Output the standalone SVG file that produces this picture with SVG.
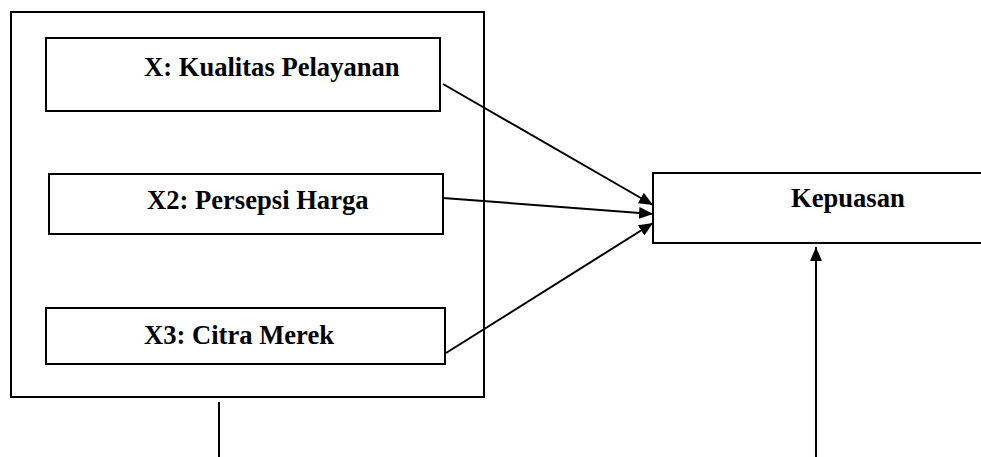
<svg xmlns="http://www.w3.org/2000/svg" width="981" height="457" viewBox="0 0 981 457">
<style>
.box{fill:#fff;stroke:#000;stroke-width:2}
.lbl{font-family:"Liberation Serif","Times New Roman",serif;font-weight:bold;font-size:26.6px;fill:#000}
.conn{stroke:#000;stroke-width:2;fill:none}
</style>
<defs>
<marker id="ah" markerWidth="14" markerHeight="12" refX="14" refY="6" orient="auto" markerUnits="userSpaceOnUse">
<path d="M0,0 L14,6 L0,12 Z" fill="#000"/>
</marker>
</defs>
<rect width="981" height="457" fill="#fff"/>
<g id="group-x">
<rect class="box" x="11" y="12" width="473" height="385"/>
</g>
<g id="node-x1">
<rect class="box" x="46" y="38" width="394" height="73"/>
<text class="lbl" x="144" y="76">X: Kualitas Pelayanan</text>
</g>
<g id="node-x2">
<rect class="box" x="49" y="174" width="394" height="60"/>
<text class="lbl" x="147" y="209">X2: Persepsi Harga</text>
</g>
<g id="node-x3">
<rect class="box" x="46" y="308" width="399" height="56"/>
<text class="lbl" x="144" y="344">X3: Citra Merek</text>
</g>
<g id="node-y">
<path class="box" d="M990,173 L653,173 L653,243 L990,243"/>
<text class="lbl" x="791" y="207">Kepuasan</text>
</g>
<g id="connectors">
<line class="conn" x1="443" y1="84" x2="653" y2="205" marker-end="url(#ah)"/>
<line class="conn" x1="443" y1="198" x2="653" y2="214" marker-end="url(#ah)"/>
<line class="conn" x1="446" y1="353" x2="653" y2="223" marker-end="url(#ah)"/>
<line class="conn" x1="219" y1="402" x2="219" y2="457"/>
<line class="conn" x1="816" y1="457" x2="816" y2="247" marker-end="url(#ah)"/>
</g>
</svg>
